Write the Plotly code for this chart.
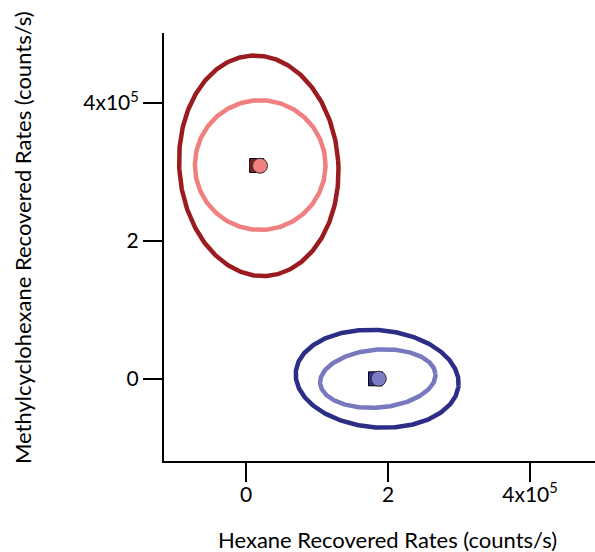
import numpy as np
import plotly.graph_objects as go

# Ellipse parameters (units of 1e5 counts/s): center x, center y, semi-x, semi-y, tilt (deg)
ell_names = ["red_outer", "red_inner", "blue_outer", "blue_inner"]
ell_cx = [0.18, 0.20, 1.847, 1.856]
ell_cy = [3.09, 3.10, 0.004, 0.006]
ell_ax = [1.12, 0.92, 1.15, 0.815]
ell_ay = [1.60, 0.94, 0.705, 0.42]
ell_tilt = [4.0, 0.0, -5.0, 5.0]
ell_color = ["#9A1B20", "#F08080", "#2B2D86", "#7778BE"]

# Points
sq_x = [0.15, 1.824]
sq_y = [3.094, 0.003]
sq_color = ["#8B1A1A", "#2E3192"]
ci_x = [0.197, 1.87]
ci_y = [3.09, 0.005]
ci_color = ["#F08080", "#7B7EC4"]

tick_vals = [0, 2, 4]
tick_text = ["0", "2", "4x10<sup>5</sup>"]

fig = go.Figure()
t = np.linspace(0, 2 * np.pi, 361)
for cx, cy, ax, ay, th, col in zip(ell_cx, ell_cy, ell_ax, ell_ay, ell_tilt, ell_color):
    r = np.deg2rad(th)
    ex = cx + ax * np.cos(t) * np.cos(r) - ay * np.sin(t) * np.sin(r)
    ey = cy + ax * np.cos(t) * np.sin(r) + ay * np.sin(t) * np.cos(r)
    fig.add_trace(go.Scatter(x=ex, y=ey, mode="lines",
                             line=dict(color=col, width=4.5), hoverinfo="skip"))

fig.add_trace(go.Scatter(x=sq_x, y=sq_y, mode="markers",
                         marker=dict(symbol="square", size=14, color=sq_color,
                                     line=dict(color="black", width=1))))
fig.add_trace(go.Scatter(x=ci_x, y=ci_y, mode="markers",
                         marker=dict(symbol="circle", size=15, color=ci_color,
                                     line=dict(color="#333333", width=1))))

font = "Lato, 'Open Sans', sans-serif"
fig.update_layout(
    width=595, height=552,
    margin=dict(l=164, r=0, t=33, b=91),
    plot_bgcolor="white", paper_bgcolor="white",
    showlegend=False,
    font=dict(family=font, size=22, color="black"),
    xaxis=dict(range=[-1.155, 4.915], tickvals=tick_vals, ticktext=tick_text,
               showgrid=False, zeroline=False, showline=True, linecolor="black",
               linewidth=2, ticks="outside", ticklen=19, tickwidth=2,
               tickcolor="black", tickfont=dict(size=21), ticklabelstandoff=-5),
    yaxis=dict(range=[-1.188, 5.014], tickvals=tick_vals, ticktext=tick_text,
               showgrid=False, zeroline=False, showline=True, linecolor="black",
               linewidth=2, ticks="outside", ticklen=19, tickwidth=2,
               tickcolor="black", tickfont=dict(size=21)),
    annotations=[
        dict(text="Hexane Recovered Rates (counts/s)", xref="paper", yref="paper",
             x=0.5, y=0, xanchor="center", yanchor="middle", xshift=8, yshift=-78,
             showarrow=False, font=dict(size=22)),
        dict(text="Methylcyclohexane Recovered Rates (counts/s)", xref="paper", yref="paper",
             x=0, y=0.5, xanchor="center", yanchor="middle", xshift=-142, yshift=9,
             textangle=-90, showarrow=False, font=dict(size=22)),
    ],
)

fig.write_html("out.html")
